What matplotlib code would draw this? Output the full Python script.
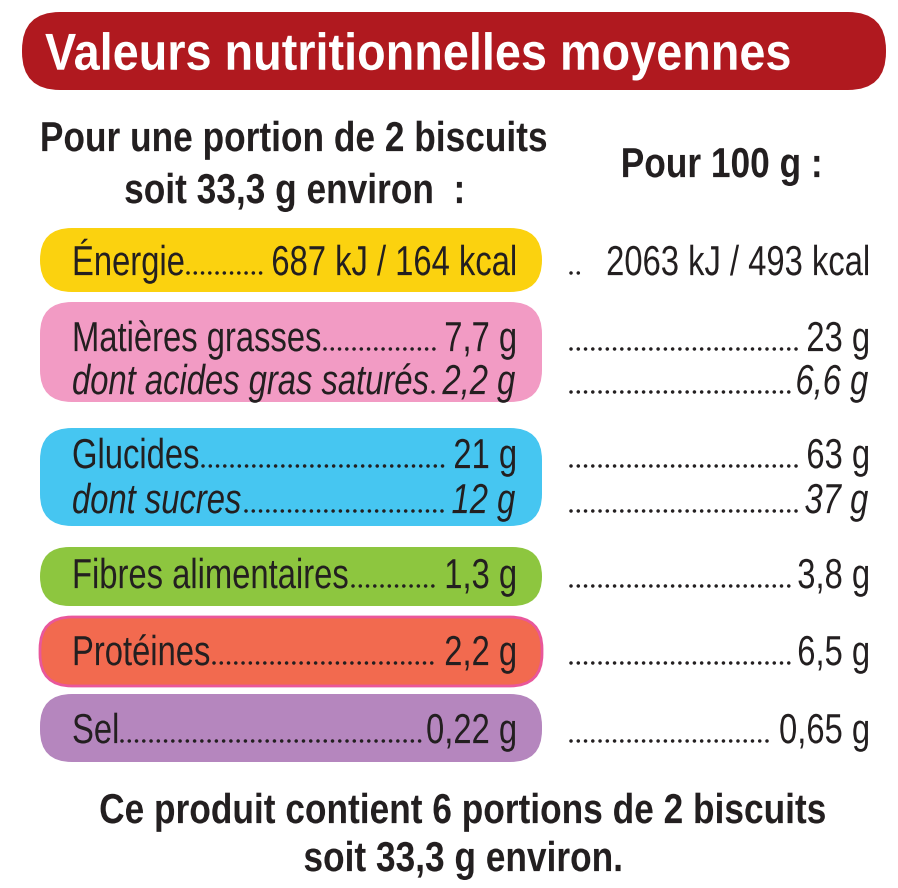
import matplotlib
matplotlib.use("Agg")
import matplotlib.pyplot as plt
from matplotlib.patches import FancyBboxPatch, PathPatch
from matplotlib.textpath import TextPath
from matplotlib.font_manager import FontProperties
from matplotlib.transforms import Affine2D

title = "Valeurs nutritionnelles moyennes"
portion_head = ["Pour une portion de 2 biscuits", "soit 33,3 g environ  :"]
per100_head = "Pour 100 g :"
labels = ["Énergie", "Matières grasses", "dont acides gras saturés", "Glucides",
          "dont sucres", "Fibres alimentaires", "Protéines", "Sel"]
portion_vals = ["687 kJ / 164 kcal", "7,7 g", "2,2 g", "21 g", "12 g", "1,3 g", "2,2 g", "0,22 g"]
per100_vals = ["2063 kJ / 493 kcal", "23 g", "6,6 g", "63 g", "37 g", "3,8 g", "6,5 g", "0,65 g"]
italic = [False, False, True, False, True, False, False, False]
footer = ["Ce produit contient 6 portions de 2 biscuits", "soit 33,3 g environ."]

# layout (pixels)
row_y = [262, 338, 381, 455, 500, 575, 652, 730]
boxes = [(228, 292, "#fbd20f", None), (302, 402, "#f29bc4", None), (428, 526, "#46c6f1", None),
         (547, 606, "#8dc63f", None), (617, 686, "#f26a4f", "#e9579b"), (694, 762, "#b586be", None)]

FONT = "Liberation Sans"
dark = "#231f20"

fig = plt.figure(figsize=(8.98, 8.88), dpi=100)
ax = fig.add_axes([0, 0, 1, 1])
ax.set_xlim(0, 898)
ax.set_ylim(888, 0)
ax.axis("off")


def ctext(s, x, y, size, ha="left", bold=False, it=False, color=dark, sx=0.78):
    # condensed text drawn as a path, y is the visual centre of capitals
    fp = FontProperties(family=FONT, weight="bold" if bold else "normal",
                        style="italic" if it else "normal")
    tp = TextPath((0, 0), s, size=size, prop=fp)
    ext = tp.get_extents()
    w = ext.x1 * sx
    if ha == "left":
        x0 = x
    elif ha == "right":
        x0 = x - w
    else:
        x0 = x - w / 2
    base = y + 0.36 * size
    tr = Affine2D().scale(sx, -1).translate(x0, base)
    ax.add_patch(PathPatch(tr.transform_path(tp), fc=color, ec="none"))
    return x0, x0 + w


def dots(xa, xb, y):
    if xb - xa > 8:
        ax.plot([xa + 5, xb - 5], [y + 13, y + 13], color=dark, lw=2.6, ls=(0, (0.01, 2.0)),
                dash_capstyle="round", solid_capstyle="round")


ax.add_patch(FancyBboxPatch((22, 12), 864, 78, boxstyle="round,pad=0,rounding_size=38",
                            fc="#b0191f", ec="none"))
ctext(title, 45, 51, 52, bold=True, color="white", sx=0.90)

ctext(portion_head[0], 293, 136, 42, ha="center", bold=True, sx=0.84)
ctext(portion_head[1], 293, 188, 42, ha="center", bold=True, sx=0.84)
ctext(per100_head, 720, 162, 42, ha="center", bold=True, sx=0.84)

for y0, y1, c, ec in boxes:
    r = min(32, (y1 - y0) / 2)
    ax.add_patch(FancyBboxPatch((40, y0), 502, y1 - y0, boxstyle=f"round,pad=0,rounding_size={r}",
                                fc=c, ec=ec if ec else "none", lw=2))

for i, lab in enumerate(labels):
    y = row_y[i] - 2
    it = italic[i]
    _, a1 = ctext(lab, 72, y, 42, it=it)
    b0, _ = ctext(portion_vals[i], 515, y, 42, ha="right", it=it)
    dots(a1, b0, y)
    c0, _ = ctext(per100_vals[i], 868, y, 42, ha="right", it=it)
    if i == 0:
        dots(566, 590, y)
    else:
        dots(566, c0, y)

ctext(footer[0], 462, 808, 42, ha="center", bold=True, sx=0.84)
ctext(footer[1], 462, 856, 42, ha="center", bold=True, sx=0.84)

fig.savefig("out.png", dpi=100, facecolor="white")
